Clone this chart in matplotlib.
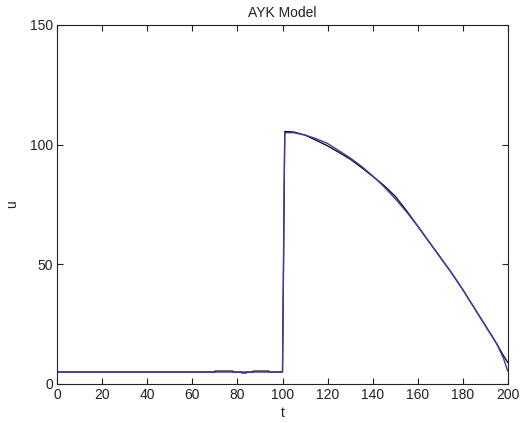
import matplotlib
matplotlib.use("Agg")
import matplotlib.pyplot as plt

plt.rcParams['font.family'] = ['Liberation Sans', 'DejaVu Sans']

# Simulated response (blue) and reference approximation (black)
t_sim = [0, 100, 100.3, 100.7, 101, 105, 110, 115, 120, 125, 130, 135, 140,
         145, 150, 155, 160, 165, 170, 175, 180, 185, 190, 195, 198, 200]
u_sim = [5, 5, 34, 79, 105, 105, 104, 102.5, 100.5, 97.5, 94.5, 91, 87,
         82.5, 77.5, 72, 66, 59.5, 53, 46.5, 39.5, 32, 24.5, 17, 11, 5.5]

t_ref = [0, 70, 70, 78, 78, 82, 82, 84, 84, 87, 87, 94, 94, 100, 101, 105,
         110, 115, 120, 125, 130, 135, 140, 145, 150, 155, 160, 165, 170,
         175, 180, 185, 190, 195, 198, 200]
u_ref = [5, 5, 5.4, 5.4, 5, 5, 4.6, 4.6, 5, 5, 5.4, 5.4, 5, 5, 105.5, 105.3,
         104, 101.8, 99.5, 96.8, 94, 90.5, 86.8, 83, 78.5, 72.5, 66, 59.5,
         53, 46.5, 39.5, 32, 24.5, 17, 12, 9]

x_ticks = list(range(0, 201, 20))
y_ticks = [0, 50, 100, 150]

fig = plt.figure(figsize=(5.28, 4.23), dpi=100)
ax = fig.add_axes([0.1085, 0.0922, 0.8531, 0.8487])

ax.plot(t_ref, u_ref, color='black', lw=0.9)
ax.plot(t_sim, u_sim, color='#3c3cac', lw=1.0)

ax.set_xlim(0, 200)
ax.set_ylim(0, 150)
ax.set_xticks(x_ticks)
ax.set_yticks(y_ticks)
ax.tick_params(direction='in', length=4, width=0.8, top=True, right=True,
               labelsize=10, colors='#222222', pad=3)
for s in ax.spines.values():
    s.set_color('#222222')
    s.set_linewidth(0.8)

ax.set_title('AYK Model', fontsize=10, color='#222222', pad=6)
ax.set_xlabel('t', fontsize=10, color='#222222', labelpad=3)
ax.set_ylabel('u', fontsize=10, color='#222222')
ax.yaxis.set_label_coords(-0.085, 0.5)

fig.savefig('out.png', dpi=100)
